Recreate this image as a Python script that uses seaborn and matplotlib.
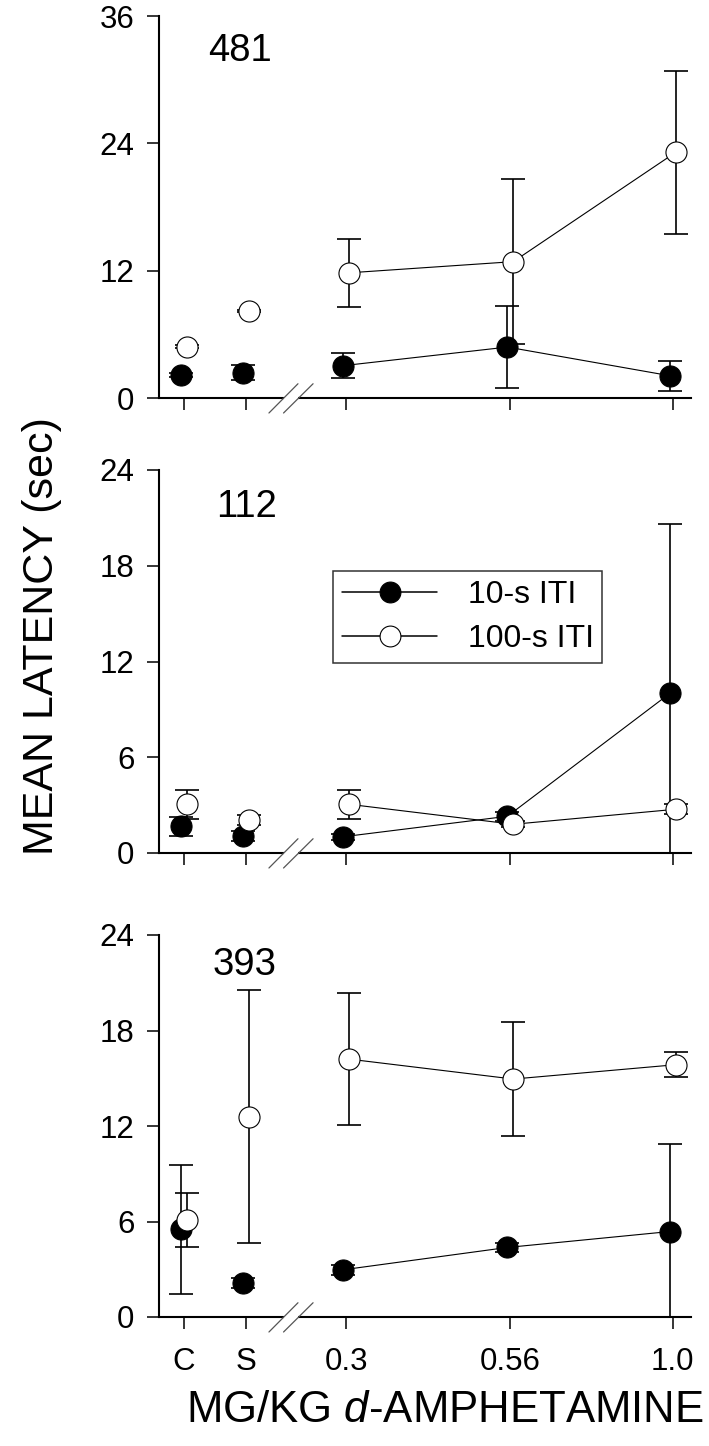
import matplotlib
matplotlib.use("Agg")
import matplotlib.pyplot as plt
from matplotlib.lines import Line2D
import numpy as np
import pandas as pd
import seaborn as sns

# dose conditions on the x axis (C = control, S = saline)
doses = ["C", "S", "0.3", "0.56", "1.0"]
dose_pos = [0.0, 0.38, 0.99, 1.99, 2.98]
drug_doses = ["0.3", "0.56", "1.0"]  # only these are joined by lines

subjects = ["481", "112", "393"]

# mean latency (sec) and error
lat_10s_481 = [2.2, 2.4, 3.05, 4.8, 2.1]
err_10s_481 = [0.2, 0.7, 1.2, 3.9, 1.4]
lat_100s_481 = [4.85, 8.2, 11.8, 12.85, 23.15]
err_100s_481 = [0.1, 0.1, 3.2, 7.8, 7.7]

lat_10s_112 = [1.68, 1.06, 1.02, 2.3, 10.0]
err_10s_112 = [0.6, 0.3, 0.2, 0.3, 10.6]
lat_100s_112 = [3.05, 2.07, 3.05, 1.8, 2.74]
err_100s_112 = [0.9, 0.3, 0.9, 0.2, 0.3]

lat_10s_393 = [5.5, 2.13, 2.97, 4.37, 5.37]
err_10s_393 = [4.05, 0.3, 0.3, 0.3, 5.5]
lat_100s_393 = [6.1, 12.57, 16.2, 14.95, 15.85]
err_100s_393 = [1.7, 7.95, 4.15, 3.6, 0.8]

y_max = {"481": 36, "112": 24, "393": 24}
y_ticks = {"481": [0, 12, 24, 36], "112": [0, 6, 12, 18, 24], "393": [0, 6, 12, 18, 24]}

series = {
    ("481", "10-s ITI"): (lat_10s_481, err_10s_481),
    ("481", "100-s ITI"): (lat_100s_481, err_100s_481),
    ("112", "10-s ITI"): (lat_10s_112, err_10s_112),
    ("112", "100-s ITI"): (lat_100s_112, err_100s_112),
    ("393", "10-s ITI"): (lat_10s_393, err_10s_393),
    ("393", "100-s ITI"): (lat_100s_393, err_100s_393),
}

rows = []
for (subj, iti), (means, errs) in series.items():
    for d, p, m, e in zip(doses, dose_pos, means, errs):
        rows.append(dict(subject=subj, iti=iti, dose=d, pos=p, latency=m, err=e))
df = pd.DataFrame(rows)

sns.set_theme(style="ticks")
plt.rcParams["font.family"] = ["Liberation Sans", "DejaVu Sans"]
plt.rcParams["text.color"] = "black"
plt.rcParams["mathtext.fontset"] = "custom"
plt.rcParams["mathtext.rm"] = "Liberation Sans"
plt.rcParams["mathtext.it"] = "Liberation Sans:italic"

fig = plt.figure(figsize=(7.09, 14.46), dpi=100)

W, H = 709, 1446
ax_left, ax_right = 159, 691
panel_box = {"481": (16, 398), "112": (470, 853), "393": (935, 1317)}
label_pos = {"481": (0.152, 0.908), "112": (0.165, 0.903), "393": (0.16, 0.921)}

# x units: 164 px per unit, C tick at 184 px
x_lo = (ax_left - 184) / 164
x_hi = (ax_right - 184) / 164

style = {
    "10-s ITI": dict(face="black", shift=-0.018, z=4),
    "100-s ITI": dict(face="white", shift=0.018, z=5),
}

axes = []
for subj in subjects:
    top, bot = panel_box[subj]
    ax = fig.add_axes([ax_left / W, 1 - bot / H, (ax_right - ax_left) / W, (bot - top) / H])
    axes.append(ax)
    sub = df[df.subject == subj]
    for iti, st in style.items():
        s = sub[sub.iti == iti].copy()
        s["x"] = s["pos"] + st["shift"]
        ax.errorbar(s["x"], s["latency"], yerr=s["err"], fmt="none", ecolor="black",
                    elinewidth=1.2, capsize=8.3, capthick=1.2, zorder=2)
        drug = s[s.dose.isin(drug_doses)]
        sns.lineplot(data=drug, x="x", y="latency", ax=ax, color="black", lw=0.8,
                     sort=False, estimator=None, zorder=3)
        sns.scatterplot(data=s, x="x", y="latency", ax=ax, s=230, color=st["face"],
                        edgecolor="black", linewidth=0.8, zorder=st["z"], legend=False)

    ax.set_xlim(x_lo, x_hi)
    ax.set_ylim(0, y_max[subj])
    ax.set_yticks(y_ticks[subj])
    ax.set_xticks(dose_pos)
    if subj == "393":
        ax.set_xticklabels(doses)
    else:
        ax.set_xticklabels([])
    ax.set_xlabel("")
    ax.set_ylabel("")
    sns.despine(ax=ax)
    for sp in ["left", "bottom"]:
        ax.spines[sp].set_linewidth(1.5)
        ax.spines[sp].set_color("black")
    ax.tick_params(axis="both", direction="out", length=8.6, width=1.1, color="black",
                   labelsize=22.5, labelcolor="black")
    ax.tick_params(axis="y", pad=9)
    ax.tick_params(axis="x", pad=13)

    ax.text(*label_pos[subj], subj, transform=ax.transAxes, fontsize=27.5,
            ha="center", va="center", color="black")

    # axis break between S and 0.3
    tr = ax.get_xaxis_transform()
    dy = 15 / (bot - top)
    ax.plot([0.607, 0.695], [0, 0], transform=tr, color="white", lw=3,
            clip_on=False, zorder=6, solid_capstyle="butt")
    ax.plot([0.518, 0.695], [-dy, dy * 0.95], transform=tr, color="#555555", lw=0.9,
            clip_on=False, zorder=7)
    ax.plot([0.607, 0.787], [-dy, dy * 0.95], transform=tr, color="#555555", lw=0.9,
            clip_on=False, zorder=7)

# legend in the middle panel
handles = [
    Line2D([], [], color="black", lw=1.1, marker="o", markersize=15,
           markerfacecolor="black", markeredgecolor="black", markeredgewidth=0.8),
    Line2D([], [], color="black", lw=1.1, marker="o", markersize=15,
           markerfacecolor="white", markeredgecolor="black", markeredgewidth=0.8),
]
leg = axes[1].legend(handles, ["10-s ITI", "100-s ITI"], loc="upper left",
                     bbox_to_anchor=(0.327, 0.736), fontsize=23, frameon=True,
                     fancybox=False, edgecolor="black", handlelength=3.0,
                     handletextpad=0.95, borderpad=0.27, labelspacing=0.45,
                     borderaxespad=0)
leg.get_frame().set_linewidth(1.1)
for t in leg.get_texts():
    t.set_color("black")

fig.text(42 / W, 1 - 636 / H, "MEAN LATENCY (sec)", rotation=90, fontsize=31,
         ha="center", va="center", color="black")
fig.text(445 / W, 1 - 1410 / H, r"MG/KG $\it{d}$-AMPHETAMINE", fontsize=31.5,
         ha="center", va="center", color="black")

fig.savefig("out.png", dpi=100, facecolor="white")
